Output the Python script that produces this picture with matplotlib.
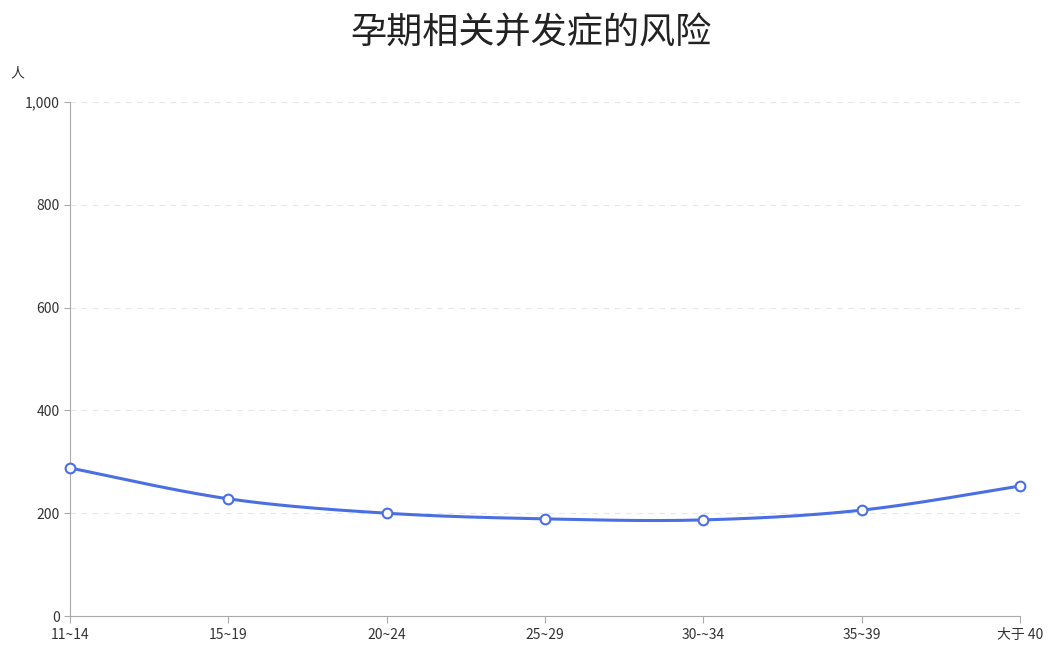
import matplotlib
matplotlib.use("Agg")
import matplotlib.pyplot as plt
import numpy as np

plt.rcParams['font.family'] = ['Noto Sans CJK SC', 'DejaVu Sans']

categories = ["11~14", "15~19", "20~24", "25~29", "30-~34", "35~39", "大于 40"]
values = [288, 228, 200, 189, 187, 206, 253]
yticks = [0, 200, 400, 600, 800, 1000]
ytick_labels = ["0", "200", "400", "600", "800", "1,000"]

fig = plt.figure(figsize=(10.55, 6.66), dpi=100)
ax = fig.add_axes([0.0664, 0.075, 0.9006, 0.772])

x = np.arange(len(values), dtype=float)
y = np.array(values, dtype=float)

# Catmull-Rom smoothing
px, py = [], []
xe = np.concatenate([[x[0]], x, [x[-1]]])
ye = np.concatenate([[y[0]], y, [y[-1]]])
t = np.linspace(0, 1, 30)
for i in range(1, len(xe) - 2):
    p0, p1, p2, p3 = [np.array([xe[j], ye[j]]) for j in (i - 1, i, i + 1, i + 2)]
    for tt in t:
        pt = 0.5 * ((2 * p1) + (-p0 + p2) * tt + (2 * p0 - 5 * p1 + 4 * p2 - p3) * tt ** 2
                    + (-p0 + 3 * p1 - 3 * p2 + p3) * tt ** 3)
        px.append(pt[0]); py.append(pt[1])

color = '#4a6fe3'
ax.plot(px, py, color=color, lw=2.2, zorder=3)
ax.plot(x, y, 'o', ms=7, mfc='white', mec=color, mew=1.5, zorder=4, clip_on=False)

ax.set_xlim(0, len(values) - 1)
ax.set_ylim(0, 1000)
ax.set_xticks(x)
ax.set_xticklabels(categories, fontsize=10, color='#333333')
ax.set_yticks(yticks)
ax.set_yticklabels(ytick_labels, fontsize=10, color='#333333')
ax.grid(axis='y', color='#e6e6e6', ls=(0, (5, 5)), lw=0.8)
ax.set_axisbelow(True)
for s in ['top', 'right']:
    ax.spines[s].set_visible(False)
ax.spines['left'].set_color('#aaaaaa')
ax.spines['bottom'].set_color('#aaaaaa')
ax.tick_params(axis='y', length=4, color='#aaaaaa')
ax.tick_params(axis='x', length=5, color='#aaaaaa')

fig.text(0.503, 0.95, "孕期相关并发症的风险", ha='center', va='center', fontsize=26, color='#222222')
fig.text(0.016, 0.89, "人", ha='center', va='center', fontsize=10, color='#333333')

fig.savefig("out.png", dpi=100)
